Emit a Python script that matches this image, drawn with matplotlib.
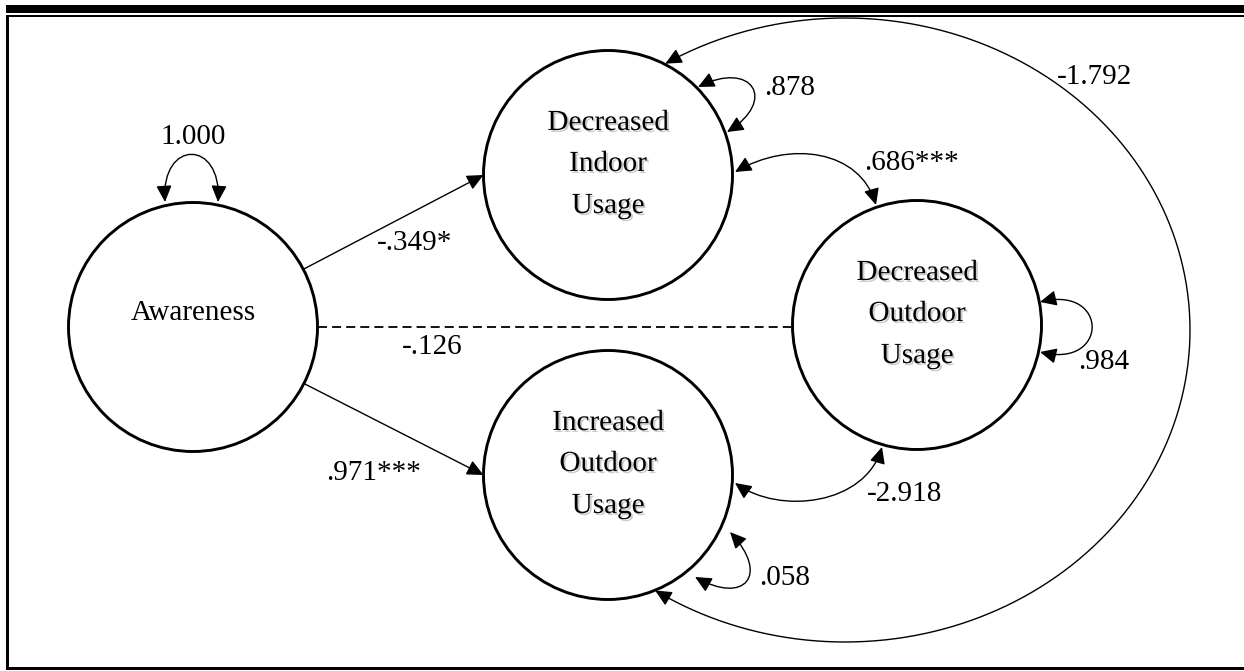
import matplotlib
matplotlib.use("Agg")
import matplotlib.pyplot as plt
import numpy as np
from matplotlib import patheffects
from matplotlib.patches import Circle, FancyArrowPatch, Rectangle
from matplotlib.path import Path

plt.rcParams["font.family"] = ["Liberation Serif", "DejaVu Serif"]

# latent variables and their label lines
NODES = ["aw", "di", "do", "io"]
NODE_LINES = {
    "aw": ["Awareness"],
    "di": ["Decreased", "Indoor", "Usage"],
    "do": ["Decreased", "Outdoor", "Usage"],
    "io": ["Increased", "Outdoor", "Usage"],
}

# estimates
REGRESSIONS = {("aw", "di"): "-.349*", ("aw", "io"): ".971***"}
DASHED_PATH = {("aw", "do"): "-.126"}
COVARIANCES = {("di", "do"): ".686***", ("io", "do"): "-2.918", ("di", "io"): "-1.792"}
VARIANCES = {"aw": "1.000", "di": ".878", "do": ".984", "io": ".058"}

# ---- layout (pixel space, y down) ----
W, H = 1244, 671
CENTERS = {"aw": (193, 327), "di": (608, 175), "do": (917, 325), "io": (608, 475)}
R = 124.5
FS = 21

LABEL_POS = {
    "-.349*": (415, 243), ".971***": (374, 473), "-.126": (432, 347),
    ".686***": (912, 163), "-2.918": (905, 494), "-1.792": (1095, 77),
    "1.000": (193, 137), ".878": (790, 88), ".984": (1104, 362), ".058": (785, 578),
}

HEAD = "-|>,head_length=1.0,head_width=0.47"
DHEAD = "<|-|>,head_length=1.0,head_width=0.47"


def bez(p0, p1, p2, p3):
    return Path([p0, p1, p2, p3], [Path.MOVETO, Path.CURVE4, Path.CURVE4, Path.CURVE4])


def edge_point(node, toward):
    cx, cy = CENTERS[node]
    d = np.array(toward, float) - (cx, cy)
    d /= np.hypot(*d)
    return (cx + R * d[0], cy + R * d[1])


fig = plt.figure(figsize=(W / 100, H / 100), dpi=100)
ax = fig.add_axes([0, 0, 1, 1])
ax.set_xlim(0, W)
ax.set_ylim(H, 0)
ax.axis("off")

# frame
ax.add_patch(Rectangle((6, 5), W, 8, color="black", lw=0))
ax.add_patch(Rectangle((6, 15), W, 2, color="black", lw=0))
ax.add_patch(Rectangle((6, 15), 2.6, 655, color="black", lw=0))
ax.add_patch(Rectangle((6, 667), W, 3, color="black", lw=0))

# circles and their labels
shadow = [patheffects.withSimplePatchShadow(offset=(1.4, -1.4), shadow_rgbFace="0.55", alpha=0.45)]
for n in NODES:
    cx, cy = CENTERS[n]
    ax.add_patch(Circle((cx, cy), R, fc="white", ec="black", lw=2.1, zorder=2))
    lines = NODE_LINES[n]
    if len(lines) == 1:
        ax.text(cx, cy - 14, lines[0], fontsize=FS, ha="center", va="center", zorder=4)
    else:
        for off, s in zip((-52, -11, 31), lines):
            ax.text(cx, cy + off, s, fontsize=FS, ha="center", va="center",
                    path_effects=shadow, zorder=4)

# regressions (straight single-headed)
for (a, b), lab in REGRESSIONS.items():
    tip = (CENTERS[b][0] - R, CENTERS[b][1])
    ax.add_patch(FancyArrowPatch(edge_point(a, tip), tip, arrowstyle=HEAD, mutation_scale=10,
                                 shrinkA=0, shrinkB=0, color="black", lw=1.0, zorder=3))

# dashed non-significant path
for (a, b), lab in DASHED_PATH.items():
    y = CENTERS[a][1]
    ax.plot([CENTERS[a][0] + R, CENTERS[b][0] - R], [y, y], color="black", lw=1.3,
            linestyle=(0, (5, 2.8)), zorder=3)

# covariances (curved double-headed)
cov_paths = {
    ("di", "do"): bez((735, 172), (790, 140), (860, 150), (876, 205)),
    ("io", "do"): bez((735, 483), (780, 515), (865, 505), (882, 447)),
}
t = np.radians(np.linspace(-121.4, 123.4, 300))
cov_paths[("di", "io")] = Path(np.column_stack([845 + 345 * np.cos(t), 330 + 312 * np.sin(t)]))
for key in COVARIANCES:
    ax.add_patch(FancyArrowPatch(path=cov_paths[key], arrowstyle=DHEAD, mutation_scale=10,
                                 color="black", lw=1.0, zorder=3))

# variances (self loops)
loops = {
    "aw": bez((165, 202), (161, 139), (222, 139), (218, 202)),
    "di": bez((698, 87), (752, 60), (778, 100), (727, 132)),
    "do": bez((1040, 302), (1109, 285), (1109, 369), (1040, 352)),
    "io": bez((730, 532), (770, 575), (745, 605), (695, 577)),
}
for n in VARIANCES:
    ax.add_patch(FancyArrowPatch(path=loops[n], arrowstyle=DHEAD, mutation_scale=10,
                                 color="black", lw=1.0, zorder=3))

# coefficient labels
for lab in (list(REGRESSIONS.values()) + list(DASHED_PATH.values())
            + list(COVARIANCES.values()) + list(VARIANCES.values())):
    x, y = LABEL_POS[lab]
    ax.text(x, y, lab, fontsize=FS, ha="center", va="center", zorder=4)

fig.savefig("out.png", dpi=100)
